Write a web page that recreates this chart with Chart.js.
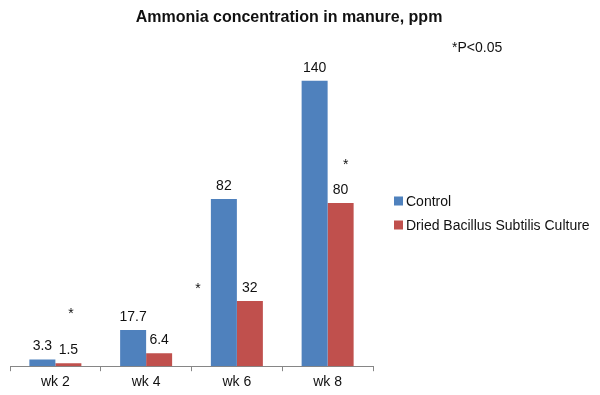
<!DOCTYPE html>
<html lang="en">

<head>
    <meta charset="UTF-8">
    <title>Ammonia concentration</title>
    <script src="https://cdn.jsdelivr.net/npm/chart.js"></script>
    <style>
        body { margin: 0; background: #fff; }
        #box { width: 600px; height: 395px; }
    </style>
</head>

<body>
    <div id="box">
        <canvas id="myChartCanvas" width="600" height="395"></canvas>
    </div>
</body>

<script>
    var semanas = ['wk 2', 'wk 4', 'wk 6', 'wk 8'];
    var controle = [3.3, 17.7, 82, 140];
    var bacillus = [1.5, 6.4, 32, 80];
    var rotuloControle = ['3.3', '17.7', '82', '140'];
    var rotuloBacillus = ['1.5', '6.4', '32', '80'];
    var titulo = 'Ammonia concentration in manure, ppm';
    var nota = '*P<0.05';
    // asteriscos: categoria, serie, altura no eixo y, deslocamento em larguras de barra
    var asteriscos = [
        { semana: 'wk 2', serie: 1, valor: 27, desloc: 0.1 },
        { semana: 'wk 6', serie: 0, valor: 39.5, desloc: -1 },
        { semana: 'wk 8', serie: 1, valor: 100, desloc: 0.2 }
    ];

    var fonte = '"Liberation Sans", Arial, sans-serif';

    const textos = {
        id: 'textos',
        afterDatasetsDraw(chart) {
            const ctx = chart.ctx;
            const y = chart.scales.y;
            ctx.save();
            ctx.fillStyle = '#111';
            ctx.textAlign = 'center';
            ctx.textBaseline = 'alphabetic';
            ctx.font = '14px ' + fonte;
            chart.data.datasets.forEach((ds, i) => {
                chart.getDatasetMeta(i).data.forEach((bar, j) => {
                    ctx.fillText(ds.rotulos[j], bar.x, bar.y - 9);
                });
            });

            ctx.font = 'bold 16px ' + fonte;
            ctx.textBaseline = 'middle';
            ctx.fillText(titulo, 289, 18);

            ctx.font = '14px ' + fonte;
            ctx.textAlign = 'left';
            ctx.fillText(nota, 452, 48);

            asteriscos.forEach((a) => {
                const j = semanas.indexOf(a.semana);
                const bar = chart.getDatasetMeta(a.serie).data[j];
                ctx.textAlign = 'center';
                ctx.fillText('*', bar.x + a.desloc * bar.width, y.getPixelForValue(a.valor) + 3);
            });

            chart.data.datasets.forEach((ds, i) => {
                const ly = 201 + i * 24;
                ctx.fillStyle = ds.backgroundColor;
                ctx.fillRect(394, ly - 4.5, 9, 9);
                ctx.fillStyle = '#111';
                ctx.textAlign = 'left';
                ctx.fillText(ds.label, 406, ly + 1);
            });
            ctx.restore();
        }
    };

    const config = {
        type: 'bar',
        data: {
            labels: semanas,
            datasets: [{
                label: 'Control',
                data: controle,
                rotulos: rotuloControle,
                backgroundColor: '#4F81BD',
                borderWidth: 0
            },
            {
                label: 'Dried Bacillus Subtilis Culture',
                data: bacillus,
                rotulos: rotuloBacillus,
                backgroundColor: '#C0504D',
                borderWidth: 0
            }]
        },
        options: {
            responsive: false,
            animation: false,
            layout: { padding: { left: 10, right: 227, top: 40, bottom: 1 } },
            categoryPercentage: 0.573,
            barPercentage: 1,
            plugins: {
                legend: { display: false },
                tooltip: { enabled: false }
            },
            scales: {
                y: { display: false, min: 0, max: 160 },
                x: {
                    border: { display: true, color: '#868686', width: 1 },
                    grid: {
                        display: true,
                        drawOnChartArea: false,
                        drawTicks: true,
                        tickLength: 5,
                        color: '#868686',
                        offset: true
                    },
                    ticks: {
                        color: '#111',
                        padding: 3,
                        font: { family: fonte, size: 14 }
                    }
                }
            }
        },
        plugins: [textos]
    };

    let ctx = document.getElementById('myChartCanvas').getContext('2d');
    let myChart = new Chart(ctx, config);
</script>
</html>
